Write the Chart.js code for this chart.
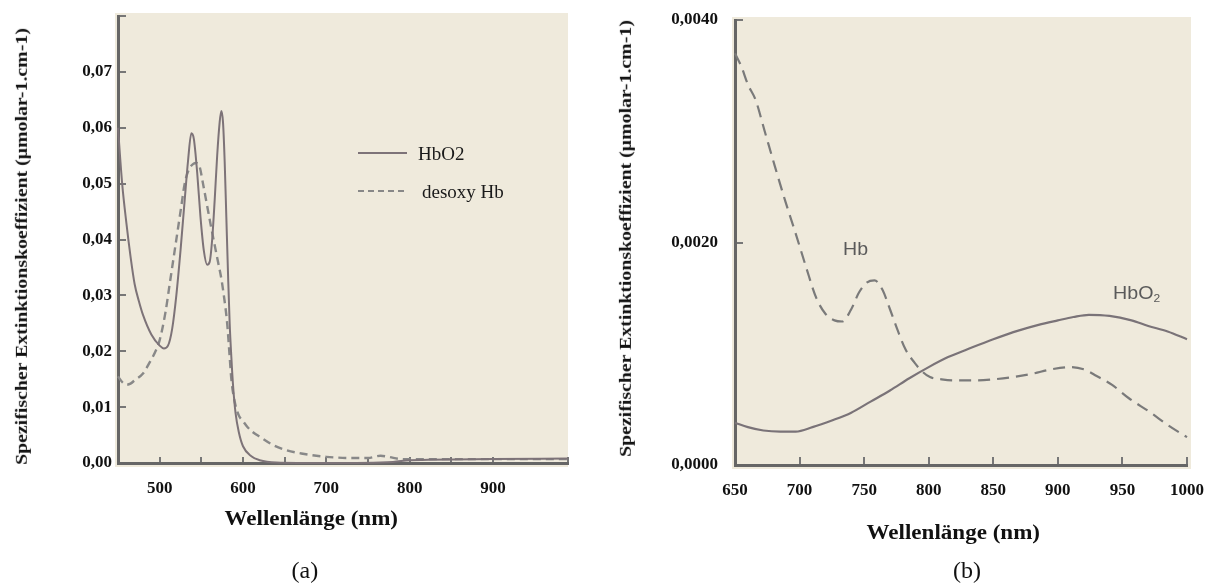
<!DOCTYPE html>
<html><head><meta charset="utf-8">
<script src="https://cdn.jsdelivr.net/npm/chart.js@4/dist/chart.umd.min.js"></script>
<style>
html,body{margin:0;padding:0;background:#fff;width:1219px;height:585px;overflow:hidden;}
#wrap{position:relative;width:1219px;height:585px;}
canvas{position:absolute;top:0;}
.t{position:absolute;white-space:nowrap;font-family:"Liberation Serif","Times New Roman",serif;color:#111;line-height:1;}
.s{position:absolute;white-space:nowrap;font-family:"Liberation Sans",Arial,sans-serif;color:#5a5a5a;line-height:1;}
.ln{position:absolute;height:0;}
</style></head><body>
<div id="wrap">
<canvas id="ca" width="600" height="585" style="left:0"></canvas>
<canvas id="cb" width="619" height="585" style="left:600px"></canvas>

<div class="t fit" data-cx="21" data-cy="246" data-len="437" data-rot="1" style="font-weight:bold;font-size:17px">Spezifischer Extinktionskoeffizient (µmolar-1.cm-1)</div>
<div class="t fit" data-cx="311" data-cy="518" data-len="174" style="font-weight:bold;font-size:20px">Wellenlänge (nm)</div>
<div class="t fit" data-cx="305" data-cy="570" style="font-size:24px">(a)</div>

<div class="ln" style="left:358px;top:152px;width:49px;border-top:2px solid #7d7378"></div>
<div class="t fit" data-lx="418" data-cy="153" style="font-size:19px;color:#1a1a1a">HbO2</div>
<div class="ln" style="left:358px;top:190px;width:46px;border-top:2px dashed #888"></div>
<div class="t fit" data-lx="422" data-cy="191" style="font-size:19px;color:#1a1a1a">desoxy Hb</div>

<div class="t fit" data-cx="625" data-cy="238" data-len="437" data-rot="1" style="font-weight:bold;font-size:17px">Spezifischer Extinktionskoeffizient (µmolar-1.cm-1)</div>
<div class="t fit" data-cx="953" data-cy="532" data-len="174" style="font-weight:bold;font-size:20px">Wellenlänge (nm)</div>
<div class="t fit" data-cx="967" data-cy="570" style="font-size:24px">(b)</div>

<div class="s fit" data-cx="855" data-cy="249" data-len="25" style="font-size:18px">Hb</div>
<div class="s fit" data-cx="1136" data-cy="294" data-len="47" style="font-size:18px">HbO<sub style="font-size:11px;vertical-align:-3px">2</sub></div>
</div>
<script>
// ---------- Chart (a): 450–990 nm ----------
const nmA_HbO2 = [450,455,460,465,470,475,480,490,500,505,510,515,520,525,530,534,538,541,545,549,553,557,560,563,566,569,572,574,576,578,580,582,584,586,588,591,595,600,610,620,640,700,780,800,900,990];
const valA_HbO2 = [0.060,0.050,0.043,0.037,0.032,0.029,0.0265,0.023,0.021,0.0205,0.021,0.024,0.030,0.038,0.047,0.054,0.059,0.058,0.052,0.044,0.038,0.0355,0.036,0.040,0.047,0.055,0.061,0.063,0.061,0.054,0.044,0.034,0.025,0.019,0.014,0.009,0.0055,0.003,0.0012,0.0005,0.0001,0.0,0.0002,0.0005,0.0007,0.0008];
const nmA_Hb = [450,455,460,465,470,480,488,495,500,507,512,517,521,526,530,535,540,544,548,552,557,562,566,570,574,577,581,584,586,590,595,600,605,612,620,635,650,670,700,730,750,765,775,790,850,900,990];
const valA_Hb = [0.0155,0.0145,0.014,0.0142,0.0148,0.016,0.018,0.020,0.022,0.027,0.032,0.037,0.041,0.046,0.050,0.0525,0.0535,0.0537,0.053,0.050,0.046,0.042,0.039,0.036,0.033,0.030,0.025,0.019,0.015,0.011,0.0085,0.0075,0.0065,0.0055,0.0047,0.0033,0.0024,0.0017,0.0011,0.0009,0.0009,0.0013,0.0011,0.0007,0.0007,0.0007,0.0007];
const yTicksA = [0,0.01,0.02,0.03,0.04,0.05,0.06,0.07];
const xLabelsA = [500,600,700,800,900];

// ---------- Chart (b): 650–1000 nm ----------
const nmB_HbO2 = [650,660,672,685,697,710,725,740,755,770,785,800,815,830,850,870,885,900,912,924,940,957,970,985,1000];
const valB_HbO2 = [0.00038,0.00034,0.00031,0.0003,0.0003,0.00034,0.0004,0.00047,0.00057,0.00067,0.00078,0.00088,0.00097,0.00104,0.00113,0.00121,0.00126,0.0013,0.00133,0.00135,0.00134,0.0013,0.00125,0.0012,0.00113];
const nmB_Hb = [650,655,660,666,673,681,689,697,705,713,720,727,733,740,746,752,758,764,770,776,782,789,795,801,810,820,835,850,865,880,895,910,920,930,942,955,972,985,1000];
const valB_Hb = [0.0037,0.00358,0.00342,0.00328,0.003,0.00268,0.00237,0.00208,0.00178,0.0015,0.00136,0.0013,0.00129,0.0014,0.00155,0.00164,0.00166,0.00158,0.0014,0.00121,0.00104,0.00092,0.00084,0.00079,0.00077,0.00076,0.00076,0.00077,0.00079,0.00082,0.00086,0.00088,0.00086,0.0008,0.00072,0.0006,0.00047,0.00036,0.00025];
const yTicksB = [0,0.002,0.004];

const pts = (xs, ys) => xs.map((x, i) => ({x, y: ys[i]}));

const bgPlugin = {
  id: 'bg',
  beforeDraw(chart, args, o) {
    const {ctx, chartArea: a} = chart;
    ctx.save();
    ctx.fillStyle = '#efeadc';
    ctx.fillRect(a.left - 3, a.top - 3, a.right - a.left + 3 + o.r, a.bottom - a.top + 7);
    ctx.restore();
  }
};

const tickFont = {family: "'Liberation Serif','Times New Roman',serif", size: 17, weight: 'bold'};

function lineDs(data, color, width, dash) {
  return {data, borderColor: color, borderWidth: width, borderDash: dash, pointRadius: 0,
          fill: false, cubicInterpolationMode: 'monotone', clip: false};
}
function noPad(s) { s.paddingTop = 0; s.paddingBottom = 0; s.paddingLeft = 0; s.paddingRight = 0; }

function fixArea(chart, t) {
  for (let i = 0; i < 3; i++) {
    const a = chart.chartArea, p = chart.options.layout.padding;
    const d = [t.top - a.top, t.left - a.left, a.right - t.right, a.bottom - t.bottom];
    if (d.every(v => Math.abs(v) < 0.5)) break;
    p.top += d[0]; p.left += d[1]; p.right += d[2]; p.bottom += d[3];
    chart.update('none');
  }
}

const chartA = new Chart(document.getElementById('ca'), {
  type: 'line',
  data: {datasets: [
    lineDs(pts(nmA_HbO2, valA_HbO2), '#7d7378', 2, []),
    lineDs(pts(nmA_Hb, valA_Hb), '#888888', 2.4, [8, 5])
  ]},
  options: {
    responsive: false, animation: false,
    layout: {padding: {left: 0, top: 16, right: 32, bottom: 0}},
    plugins: {legend: {display: false}, tooltip: {enabled: false}, bg: {r: 0}},
    scales: {
      x: {type: 'linear', min: 450, max: 990,
        afterFit(s) { s.height = 122; noPad(s); },
        border: {display: true, color: '#666', width: 3},
        grid: {drawOnChartArea: false, drawTicks: true, tickLength: -6, color: '#777', lineWidth: 2},
        ticks: {stepSize: 50, padding: 21, color: '#111', font: tickFont, maxRotation: 0, autoSkip: false,
          callback: v => xLabelsA.includes(v) ? String(v) : ''}
      },
      y: {type: 'linear', min: 0, max: 0.08,
        afterFit(s) { s.width = 118; noPad(s); },
        border: {display: true, color: '#666', width: 3},
        grid: {drawOnChartArea: false, drawTicks: true, tickLength: -8, color: '#777', lineWidth: 2},
        ticks: {stepSize: 0.01, padding: 14, color: '#111', font: tickFont, autoSkip: false,
          callback: v => { const t = yTicksA.find(k => Math.abs(k - v) < 1e-9); return t === undefined ? '' : t.toFixed(2).replace('.', ','); }}
      }
    }
  },
  plugins: [bgPlugin]
});
fixArea(chartA, {left: 118, top: 16, right: 568, bottom: 463});

const chartB = new Chart(document.getElementById('cb'), {
  type: 'line',
  data: {datasets: [
    lineDs(pts(nmB_HbO2, valB_HbO2), '#7a7378', 2.2, []),
    lineDs(pts(nmB_Hb, valB_Hb), '#7a7a7a', 2.2, [12, 7])
  ]},
  options: {
    responsive: false, animation: false,
    layout: {padding: {left: 0, top: 20, right: 32, bottom: 0}},
    plugins: {legend: {display: false}, tooltip: {enabled: false}, bg: {r: 4}},
    scales: {
      x: {type: 'linear', min: 650, max: 1000,
        afterFit(s) { s.height = 120; noPad(s); },
        border: {display: true, color: '#666', width: 3},
        grid: {drawOnChartArea: false, drawTicks: true, tickLength: -8, color: '#777', lineWidth: 2},
        ticks: {stepSize: 50, padding: 23, color: '#111', font: tickFont, maxRotation: 0, autoSkip: false,
          callback: v => String(v)}
      },
      y: {type: 'linear', min: 0, max: 0.004,
        afterFit(s) { s.width = 135; noPad(s); },
        border: {display: true, color: '#666', width: 3},
        grid: {drawOnChartArea: false, drawTicks: true, tickLength: -8, color: '#777', lineWidth: 2},
        ticks: {stepSize: 0.002, padding: 25, color: '#111', font: tickFont, autoSkip: false,
          callback: v => { const t = yTicksB.find(k => Math.abs(k - v) < 1e-9); return t === undefined ? '' : t.toFixed(4).replace('.', ','); }}
      }
    }
  },
  plugins: [bgPlugin]
});
fixArea(chartB, {left: 135, top: 20, right: 587, bottom: 465});

// position text overlays
document.querySelectorAll('.fit').forEach(el => {
  const w = el.offsetWidth, h = el.offsetHeight;
  const k = el.dataset.len ? (+el.dataset.len / w) : 1;
  let left, top = +el.dataset.cy - h / 2;
  if (el.dataset.lx) left = +el.dataset.lx; else left = +el.dataset.cx - w / 2;
  el.style.left = left + 'px';
  el.style.top = top + 'px';
  el.style.transformOrigin = el.dataset.lx ? 'left center' : 'center center';
  el.style.transform = (el.dataset.rot ? 'rotate(-90deg) ' : '') + 'scaleX(' + k + ')';
});
</script>
</body></html>
